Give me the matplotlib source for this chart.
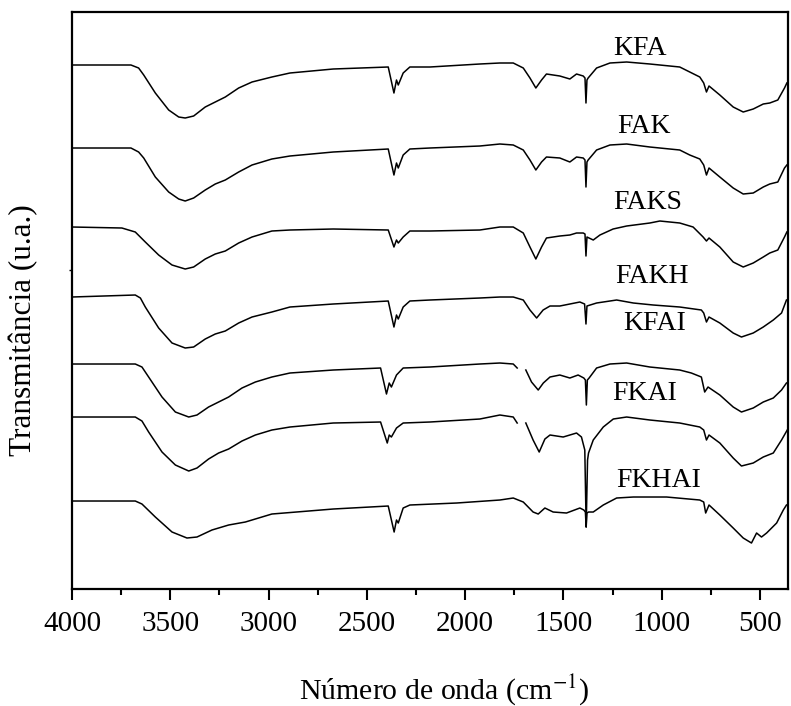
import numpy as np
import matplotlib
matplotlib.use("Agg")
import matplotlib.pyplot as plt
from matplotlib.ticker import MultipleLocator

# FTIR spectra, stacked with vertical offsets (arbitrary units)
nan = np.nan

wn_kfa = [4000, 3800, 3700, 3661, 3635, 3576, 3508, 3457, 3424, 3381, 3322, 3271,
          3220, 3152, 3084, 2983, 2891, 2671, 2391, 2362, 2349, 2340, 2315, 2281,
          2179, 1925, 1823, 1755, 1704, 1670, 1640, 1611, 1586, 1518, 1467, 1433,
          1399, 1390, 1385, 1380, 1374, 1331, 1263, 1178, 1060, 908, 857, 806,
          786, 772, 759, 704, 636, 585, 534, 483, 450, 409, 375, 363]
kfa = [524, 524, 524, 521, 514, 496, 479, 472, 471, 473, 482, 487,
       492, 501, 507, 512, 516, 520, 522, 496, 509, 504, 516, 522,
       522, 525, 526, 526, 521, 511, 501, 509, 515, 513, 510, 515,
       513, 511, 486, 509, 511, 521, 526, 527, 525, 522, 517, 512,
       506, 497, 503, 494, 482, 477, 480, 485, 486, 489, 501, 506]

wn_fak = wn_kfa
fak = [441, 441, 441, 437, 431, 412, 397, 390, 388, 391, 399, 405,
       409, 417, 424, 430, 433, 437, 440, 414, 426, 421, 434, 440,
       441, 443, 445, 444, 439, 429, 419, 427, 432, 431, 427, 432,
       431, 429, 402, 427, 429, 439, 444, 445, 442, 439, 434, 430,
       424, 414, 421, 412, 401, 395, 396, 402, 405, 407, 421, 424]

wn_faks = [4000, 3746, 3678, 3627, 3559, 3491, 3424, 3381, 3322, 3271, 3220, 3152,
           3084, 2983, 2891, 2671, 2391, 2362, 2349, 2340, 2315, 2281, 2179, 1925,
           1823, 1755, 1704, 1670, 1640, 1611, 1586, 1518, 1467, 1433, 1399, 1390,
           1385, 1380, 1348, 1314, 1247, 1178, 1060, 1009, 908, 840, 789, 772,
           759, 704, 636, 585, 534, 483, 450, 409, 375, 363]
faks = [362, 361, 357, 347, 334, 324, 320, 322, 330, 335, 338, 346,
        352, 358, 359, 360, 359, 342, 349, 346, 352, 358, 358, 359,
        362, 362, 356, 342, 330, 342, 351, 353, 354, 356, 356, 355,
        333, 352, 349, 354, 360, 363, 366, 368, 366, 362, 352, 348,
        351, 342, 327, 322, 326, 332, 336, 339, 352, 357]

wn_fakh = [4000, 3678, 3652, 3627, 3559, 3491, 3424, 3381, 3322, 3271, 3220, 3152,
           3084, 2983, 2891, 2671, 2391, 2362, 2349, 2340, 2315, 2281, 2179, 1925,
           1823, 1755, 1704, 1670, 1636, 1603, 1568, 1518, 1467, 1416, 1392, 1385,
           1380, 1331, 1229, 1144, 1043, 908, 798, 786, 772, 759, 704, 636,
           594, 534, 483, 432, 390, 365]
fakh = [292, 294, 291, 282, 261, 246, 241, 242, 250, 255, 258, 266,
        272, 277, 282, 285, 288, 262, 274, 270, 282, 288, 289, 291,
        292, 292, 289, 279, 271, 279, 283, 283, 285, 287, 285, 265,
        283, 286, 289, 286, 284, 282, 279, 276, 267, 272, 266, 256,
        252, 256, 262, 269, 276, 289]

# KFAI and FKAI: shifted CO2 doublet and a break in the trace near 1713 cm-1
wn_kfai = [4000, 3678, 3644, 3610, 3542, 3474, 3406, 3364, 3305, 3254, 3203, 3135,
           3067, 2983, 2891, 2671, 2430, 2400, 2386, 2375, 2349, 2315, 2179, 1925,
           1823, 1755, 1735, 1713, 1691, 1662, 1628, 1602, 1568, 1518, 1467, 1425,
           1396, 1388, 1383, 1378, 1369, 1331, 1263, 1178, 1060, 908, 849, 798,
           781, 764, 704, 636, 594, 534, 483, 432, 390, 365]
kfai = [225, 225, 222, 212, 192, 177, 172, 174, 182, 187, 192, 201,
        207, 212, 216, 219, 221, 195, 206, 202, 214, 221, 222, 225,
        226, 225, 221, nan, 219, 207, 199, 206, 212, 214, 211, 214,
        211, 209, 184, 209, 211, 221, 225, 226, 222, 219, 216, 212,
        197, 202, 194, 182, 177, 181, 187, 191, 199, 206]

wn_fkai = [4000, 3678, 3644, 3610, 3542, 3474, 3406, 3364, 3305, 3254, 3203, 3135,
           3067, 2983, 2891, 2671, 2430, 2396, 2386, 2375, 2349, 2315, 2179, 1925,
           1823, 1755, 1735, 1713, 1691, 1654, 1623, 1594, 1568, 1501, 1433, 1408,
           1391, 1384, 1377, 1372, 1348, 1297, 1246, 1178, 1060, 908, 806, 786,
           772, 759, 704, 636, 594, 534, 483, 432, 390, 361]
fkai = [172, 172, 168, 157, 137, 124, 118, 121, 130, 136, 140, 148,
        154, 159, 162, 166, 167, 146, 154, 152, 161, 166, 167, 170,
        174, 172, 166, nan, 166, 149, 137, 150, 154, 152, 156, 152,
        139, 62, 129, 136, 149, 162, 170, 172, 169, 166, 162, 159,
        149, 154, 146, 131, 123, 126, 132, 136, 149, 159]

wn_fkhai = [4000, 3678, 3644, 3576, 3491, 3415, 3364, 3288, 3203, 3118, 2983, 2671,
            2391, 2361, 2349, 2340, 2315, 2281, 2043, 1823, 1755, 1704, 1654, 1628,
            1594, 1552, 1484, 1416, 1396, 1388, 1384, 1380, 1372, 1348, 1297, 1229,
            1144, 975, 806, 786, 776, 759, 704, 636, 585, 543, 517, 492,
            466, 415, 381, 365]
fkhai = [88, 88, 85, 72, 57, 51, 52, 59, 64, 67, 75, 80,
         83, 57, 69, 66, 81, 84, 86, 89, 91, 87, 77, 75,
         81, 77, 76, 81, 79, 77, 62, 76, 77, 77, 84, 91,
         92, 92, 89, 87, 76, 84, 74, 61, 51, 46, 56, 52,
         56, 66, 79, 84]

samples = ["KFA", "FAK", "FAKS", "FAKH", "KFAI", "FKAI", "FKHAI"]
label_x = [1111, 1091, 1070, 1050, 1035, 1086, 1014]
label_y = [541, 463, 387, 313, 266, 196, 109]


def main():
    plt.rcParams['font.family'] = ['Liberation Serif', 'DejaVu Serif']
    plt.rcParams['mathtext.fontset'] = 'stix'

    fig = plt.figure(figsize=(7.91, 7.06), dpi=100)
    ax = fig.add_axes([0.091, 0.1657, 0.905, 0.8173])

    series = [(wn_kfa, kfa), (wn_fak, fak), (wn_faks, faks), (wn_fakh, fakh),
              (wn_kfai, kfai), (wn_fkai, fkai), (wn_fkhai, fkhai)]
    for wn, t in series:
        ax.plot(wn, t, color='black', linewidth=1.1)

    for name, x, y in zip(samples, label_x, label_y):
        ax.text(x, y, name, fontsize=20, ha='center', va='center')

    ax.set_xlim(4000, 358)
    ax.set_ylim(0, 577)
    ax.xaxis.set_major_locator(MultipleLocator(500))
    ax.xaxis.set_minor_locator(MultipleLocator(250))
    ax.set_yticks([319])
    ax.set_yticklabels([])
    ax.tick_params(axis='x', which='major', direction='out', length=8, width=1.5,
                   labelsize=21, pad=8)
    ax.tick_params(axis='x', which='minor', direction='out', length=4, width=1.5)
    ax.tick_params(axis='y', direction='out', length=2, width=1)
    for s in ax.spines.values():
        s.set_linewidth(1.6)

    ax.set_xlabel("Número de onda (cm$^{\\mathrm{-1}}$)", fontsize=21.5)
    ax.xaxis.set_label_coords(0.52, -0.143)
    ax.set_ylabel("Transmitância (u.a.)", fontsize=22.5)
    ax.yaxis.set_label_coords(-0.047, 0.449)

    fig.savefig("out.png", dpi=100)


if __name__ == "__main__":
    main()
